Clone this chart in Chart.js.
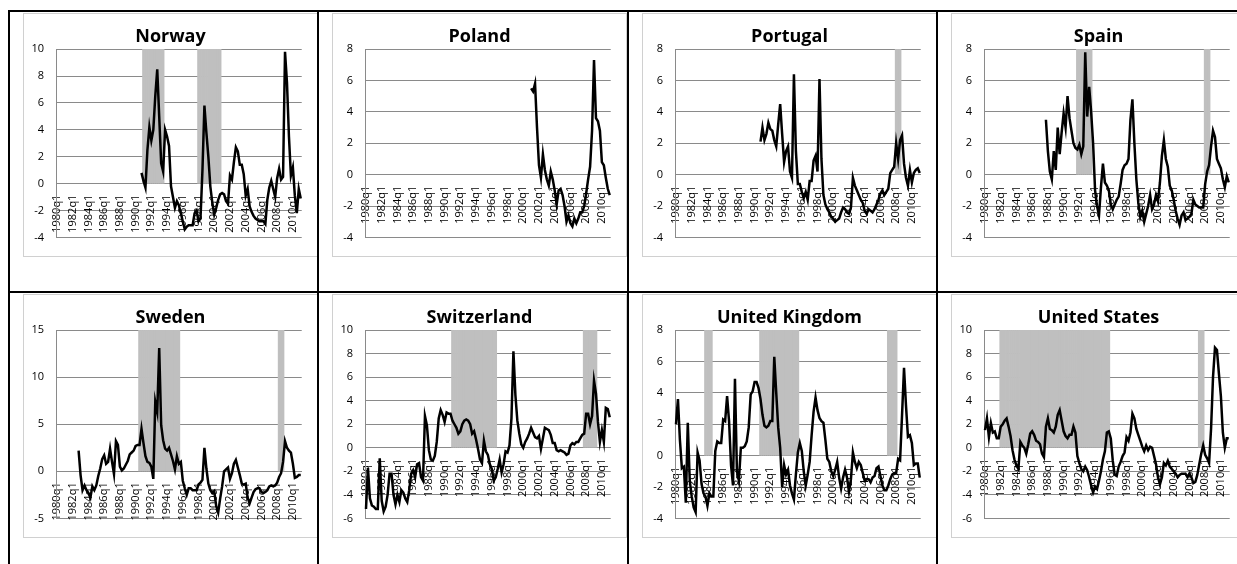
<!DOCTYPE html>
<html>
<head>
<meta charset="utf-8">
<script src="https://cdn.jsdelivr.net/npm/chart.js@4.4.1/dist/chart.umd.min.js"></script>
<style>
  html, body { margin: 0; padding: 0; background: #fff; overflow: hidden; }
  #page { position: relative; width: 1237px; height: 564px; overflow: hidden; }
  .box { position: absolute; width: 293px; height: 242px; border: 1px solid #d0d0d0; background: #fff; }
  .box canvas { display: block; }
  .vline { position: absolute; top: 10px; width: 2px; height: 560px; background: #000; }
  .hline { position: absolute; left: 8px; width: 1240px; height: 2px; background: #000; }
</style>
</head>
<body>
<div id="page"></div>
<script>
// quarterly series, each listed from its first quarter
const norwayFrom = '1990q4';
const norway = [0.8,
  0.2, -0.3, 2.5, 4.2,   3.2, 4.0, 6.5, 8.5,   5.0, 1.5, 0.9, 4.0,   3.5, 2.8, -0.2, -1.0,
  -1.8, -1.3, -1.6, -2.2,   -2.8, -3.4, -3.2, -3.1,   -3.1, -3.1, -2.2, -2.0,   -2.8, -2.6, 1.0, 5.8,
  3.8, 2.0, -0.2, -1.4,   -2.3, -1.8, -1.2, -0.8,   -0.7, -0.8, -1.3, -1.5,   0.6, 0.3, 1.6, 2.7,
  2.4, 1.4, 1.4, 0.7,   -0.9, -0.4, -1.7, -2.1,   -2.4, -2.6, -2.7, -2.8,   -2.8, -2.8, -3.0, -1.2,
  -0.3, 0.2, -0.4, -1.0,   0.4, 1.1, 0.3, 0.5,   9.8, 7.5, 3.5, 0.6,   1.2, -0.9, -2.2, -0.4,
  -1.1];

const polandFrom = '2001q1';
const poland = [
  5.5, 5.3, 5.8, 3.0,   0.6, -0.2, 1.3, 0.3,   -0.3, -0.7, 0.2, -0.3,   -1.0, -1.9, -1.0, -0.9,
  -1.3, -2.0, -3.0, -2.6,   -3.1, -3.3, -2.8, -3.1,   -2.8, -2.4, -2.4, -2.0,   -1.2, -0.3, 0.5, 2.8,
  7.3, 3.6, 3.4, 2.8,   0.8, 0.6, -0.2, -0.9,   -1.3];

const portugalFrom = '1990q4';
const portugal = [2.1,
  3.0, 2.2, 2.6, 3.3,   2.9, 2.8, 2.2, 1.8,   3.2, 4.5, 2.6, 0.8,   1.5, 1.8, 0.2, -0.2,
  6.4, 1.5, -0.6, -0.6,   -1.1, -1.5, -1.1, -1.6,   -0.4, -0.4, 0.9, 1.2,   0.2, 6.1, 1.0, -1.3,
  -1.9, -2.2, -2.4, -2.7,   -2.8, -3.0, -2.9, -2.8,   -2.4, -2.1, -2.2, -2.4,   -2.5, -2.1, -0.2, -0.7,
  -1.0, -1.3, -1.6, -1.8,   -2.3, -2.5, -2.2, -2.3,   -2.4, -2.2, -1.9, -1.6,   -1.2, -1.0, -1.3, -1.1,
  -0.9, 0.1, 0.3, 0.5,   2.0, 1.0, 2.2, 2.5,   0.7, -0.2, -0.7, 0.3,   -0.5, 0.1, 0.3, 0.4,
  0.1];

const spainFrom = '1987q4';
const spain = [3.5,
  1.5, 0.2, -0.3, 1.5,   0.3, 3.0, 1.3, 2.7,   3.9, 3.0, 5.0, 3.6,   2.8, 2.0, 1.7, 1.6,
  1.9, 1.3, 1.8, 7.8,   3.7, 5.6, 4.0, 2.0,   -1.0, -2.0, -2.6, -0.8,   0.7, -0.5, -0.7, -1.0,
  -1.9, -2.2, -1.9, -1.6,   -1.4, -0.6, 0.3, 0.6,   0.7, 1.0, 3.5, 4.8,   2.0, -0.3, -1.8, -2.7,
  -2.3, -3.0, -2.5, -2.0,   -1.3, -2.2, -1.9, -1.3,   -1.7, -0.5, 1.2, 2.2,   1.0, 0.5, -0.7, -1.0,
  -1.6, -2.3, -2.8, -3.2,   -2.6, -2.4, -2.9, -2.8,   -2.7, -2.5, -1.6, -1.9,   -2.0, -2.1, -2.1, -2.1,
  -0.6, 0.2, 0.6, 1.8,   2.8, 2.4, 1.0, 0.7,   0.4, -0.3, -0.8, -0.1,   -0.5];

const swedenFrom = '1982q4';
const sweden = [2.2,
  -0.4, -2.0, -1.5, -2.0,   -2.3, -2.8, -1.6, -2.0,   -1.5, -0.5, 0.3, 1.3,   1.7, 0.8, 1.0, 2.4,
  1.0, -0.3, 3.2, 2.8,   0.5, 0.1, 0.3, 0.7,   1.1, 1.8, 2.0, 2.2,   2.7, 2.8, 2.8, 4.5,
  3.0, 1.6, 1.0, 0.9,   0.5, -0.8, 7.4, 6.3,   13.1, 4.9, 3.3, 2.4,   2.2, 2.5, 1.8, 1.1,
  0.2, 1.6, 0.8, 1.0,   -1.0, -1.8, -2.5, -1.8,   -1.8, -2.0, -2.0, -2.0,   -1.4, -1.2, -0.9, 2.5,
  0.3, -1.3, -2.0, -2.3,   -2.1, -3.7, -4.4, -2.9,   -1.6, 0.0, 0.2, 0.4,   -0.8, -0.2, 0.8, 1.2,
  0.4, -0.4, -1.3, -1.4,   -1.3, -2.8, -3.4, -2.8,   -2.2, -1.9, -1.8, -1.8,   -2.2, -2.3, -2.2, -2.0,
  -1.6, -1.5, -1.6, -1.5,   -1.2, -0.6, -0.2, 1.0,   3.2, 2.5, 2.2, 2.0,   0.8, -0.7, -0.6, -0.4,
  -0.4];

const switzerlandFrom = '1980q1';
const switzerland = [
  -5.2, -1.7, -4.3, -4.9,   -5.0, -5.2, -5.2, -0.9,   -4.5, -5.4, -5.0, -4.0,   -2.2, -2.2, -4.0, -4.8,
  -4.0, -4.6, -3.6, -3.8,   -4.3, -4.6, -3.6, -2.2,   -1.9, -2.5, -1.4, -1.3,   -2.5, -2.8, 2.7, 1.9,
  -0.2, -1.0, -1.1, -0.7,   0.5, 2.5, 3.2, 2.8,   2.2, 3.0, 2.9, 2.9,   2.3, 2.0, 1.7, 1.2,
  1.4, 2.0, 2.3, 2.4,   2.3, 2.0, 1.2, 1.4,   0.7, -0.1, -1.0, -1.3,   0.6, -0.3, -0.6, -1.4,
  -1.8, -2.8, -2.5, -1.8,   -1.0, -2.1, -1.4, -0.3,   -0.4, 0.2, 2.5, 8.2,   4.5, 2.3, 1.2, 0.3,
  0.0, 0.5, 0.8, 1.2,   1.7, 1.3, 0.9, 0.8,   1.0, -0.1, 0.8, 1.7,   1.6, 1.5, 1.1, 0.4,
  0.4, -0.2, -0.3, -0.2,   -0.3, -0.4, -0.6, -0.5,   0.2, 0.4, 0.3, 0.5,   0.5, 0.8, 1.1, 1.2,
  2.9, 2.9, 2.0, 2.7,   5.7, 4.6, 2.2, 0.5,   1.5, 0.5, 3.4, 3.3,   2.6];

const ukFrom = '1980q1';
const uk = [
  2.0, 3.6, 1.0, -0.8,   -0.7, -3.0, 2.1, -1.6,   -2.6, -3.3, -3.6, 0.2,   -0.3, -1.8, -2.4, -2.6,
  -3.2, -2.4, -2.6, -2.6,   0.3, 0.9, 0.8, 0.8,   2.3, 2.2, 3.8, 2.2,   -0.6, -1.9, 4.9, -1.0,
  -1.6, 0.5, 0.5, 0.6,   0.9, 1.8, 3.9, 4.1,   4.7, 4.7, 4.3, 3.6,   2.6, 1.9, 1.8, 1.9,
  2.2, 2.2, 6.3, 4.0,   1.8, 0.5, -2.0, -0.6,   -1.2, -0.9, -1.9, -2.4,   -2.8, -1.2, 0.2, 0.8,
  0.3, -1.0, -1.9, -1.2,   -0.4, 1.3, 2.8, 3.7,   2.9, 2.4, 2.2, 2.1,   1.0, -0.2, -0.4, -1.0,
  -1.3, -0.9, -0.4, -1.4,   -2.1, -1.4, -0.9, -1.4,   -2.3, -1.5, 0.2, -0.4,   -0.8, -0.4, -0.6, -1.1,
  -1.6, -1.5, -1.5, -1.7,   -1.4, -1.3, -0.8, -0.7,   -1.3, -1.9, -2.2, -2.2,   -1.9, -1.5, -1.2, -1.1,
  -1.1, -0.2, -0.3, 2.6,   5.6, 3.2, 1.2, 1.3,   0.8, -0.6, -0.5, -0.5,   -1.4];

const usFrom = '1980q1';
const us = [
  1.5, 2.5, 0.9, 2.1,   1.3, 1.4, 0.8, 0.8,   1.8, 2.0, 2.3, 2.5,   1.8, 1.0, -0.2, -1.0,
  -1.5, -1.8, 0.5, 0.2,   0.0, -0.5, 0.3, 1.2,   1.4, 1.1, 0.6, 0.5,   0.3, -0.5, -0.8, 1.8,
  2.5, 1.6, 1.5, 1.3,   1.8, 2.8, 3.2, 2.3,   1.4, 1.0, 0.8, 1.1,   1.1, 1.8, 1.3, -0.7,
  -1.3, -1.8, -2.0, -1.6,   -1.9, -2.5, -3.2, -3.8,   -3.3, -3.5, -2.8, -2.0,   -1.0, -0.3, 1.3, 1.4,
  0.8, -1.1, -2.3, -2.4,   -1.6, -1.2, -0.7, -0.4,   0.9, 0.6, 1.3, 2.9,   2.5, 1.6, 1.1, 0.6,
  0.1, -0.3, 0.2, -0.2,   0.1, 0.0, -0.7, -1.4,   -2.5, -3.1, -2.5, -1.3,   -1.5, -1.1, -1.6, -1.8,
  -2.0, -2.2, -2.5, -2.3,   -2.2, -2.2, -2.2, -2.5,   -2.2, -2.5, -3.0, -2.9,   -2.3, -1.4, -0.5, 0.2,
  -0.6, -0.9, -1.3, 1.6,   6.0, 8.5, 8.3, 6.3,   4.4, 1.3, 0.0, 0.8,   0.8];

// shaded crisis periods, first and last quarter
const norwayCrisis = [['1991q1', '1993q3'], ['1998q1', '2000q4']];
const polandCrisis = [];
const portugalCrisis = [['2008q1', '2008q3']];
const spainCrisis = [['1991q4', '1993q3'], ['2008q1', '2008q3']];
const swedenCrisis = [['1990q3', '1995q3'], ['2008q2', '2008q4']];
const switzerlandCrisis = [['1991q1', '1996q3'], ['2007q4', '2009q2']];
const ukCrisis = [['1983q4', '1984q3'], ['1990q4', '1995q3'], ['2007q1', '2008q1']];
const usCrisis = [['1982q1', '1995q4'], ['2007q2', '2007q4']];

// y axis: min, max, step
const axis48 = [-4, 8, 2];
const axis410 = [-4, 10, 2];
const axis610 = [-6, 10, 2];
const axisSweden = [-5, 15, 5];

const quarters = [];
for (let y = 1980; y <= 2011; y++) {
  for (let q = 1; q <= 4; q++) {
    quarters.push(y + 'q' + q);
    if (y === 2011) break;
  }
}

const panels = [
  ['Norway', norwayFrom, norway, norwayCrisis, axis410],
  ['Poland', polandFrom, poland, polandCrisis, axis48],
  ['Portugal', portugalFrom, portugal, portugalCrisis, axis48],
  ['Spain', spainFrom, spain, spainCrisis, axis48],
  ['Sweden', swedenFrom, sweden, swedenCrisis, axisSweden],
  ['Switzerland', switzerlandFrom, switzerland, switzerlandCrisis, axis610],
  ['United Kingdom', ukFrom, uk, ukCrisis, axis48],
  ['United States', usFrom, us, usCrisis, axis610]
];

const colX = [8, 317, 627, 936];
const rowY = [10, 291];
const gridGrey = '#8a8a8a';

function placeSeries(from, values) {
  const out = new Array(quarters.length).fill(null);
  const i0 = quarters.indexOf(from);
  values.forEach((v, k) => { if (i0 + k < out.length) out[i0 + k] = v; });
  return out;
}

function shading(periods, top) {
  const out = new Array(quarters.length).fill(null);
  periods.forEach(([a, b]) => {
    for (let i = quarters.indexOf(a); i <= quarters.indexOf(b); i++) out[i] = top;
  });
  return out;
}

const page = document.getElementById('page');

panels.forEach(([name, from, values, crisis, yAxis], n) => {
  const box = document.createElement('div');
  box.className = 'box';
  box.style.left = (colX[n % 4] + 15) + 'px';
  box.style.top = (rowY[Math.floor(n / 4)] + 3) + 'px';
  const canvas = document.createElement('canvas');
  canvas.width = 293;
  canvas.height = 242;
  box.appendChild(canvas);
  page.appendChild(box);

  new Chart(canvas.getContext('2d'), {
    type: 'bar',
    data: {
      labels: quarters,
      datasets: [
        {
          type: 'line',
          data: placeSeries(from, values),
          borderColor: '#000',
          borderWidth: 2.5,
          pointRadius: 0,
          tension: 0,
          order: 0
        },
        {
          type: 'bar',
          data: shading(crisis, yAxis[1]),
          backgroundColor: '#bfbfbf',
          barPercentage: 1,
          categoryPercentage: 1,
          order: 1
        }
      ]
    },
    options: {
      responsive: false,
      animation: false,
      devicePixelRatio: 1,
      layout: { padding: { left: 0, right: 0, top: 0, bottom: 12.5 } },
      plugins: {
        legend: { display: false },
        tooltip: { enabled: false },
        title: {
          display: true,
          text: name,
          color: '#000',
          font: { family: 'Open Sans', size: 18, weight: 'bold' },
          padding: { top: 12.5, bottom: 1 }
        }
      },
      scales: {
        x: {
          position: { y: 0 },
          offset: true,
          grid: { display: false },
          border: { display: true, color: gridGrey },
          ticks: {
            autoSkip: false,
            minRotation: 90,
            maxRotation: 90,
            padding: 3,
            color: '#000',
            font: { family: 'Open Sans', size: 11 },
            callback: (v, i) => (i % 8 === 0 ? quarters[i] : '')
          }
        },
        y: {
          min: yAxis[0],
          max: yAxis[1],
          grid: { color: gridGrey, drawTicks: false },
          border: { color: gridGrey },
          ticks: {
            stepSize: yAxis[2],
            padding: 12,
            color: '#000',
            font: { family: 'Open Sans', size: 11 }
          },
          afterFit: s => { s.width = 32; }
        },
        // empty right margin so the title stays centred on the whole chart box
        yRight: {
          position: 'right',
          grid: { display: false },
          border: { display: false },
          ticks: { display: false },
          afterFit: s => { s.width = 14; }
        }
      }
    }
  });
});

// table rules drawn over the charts
colX.forEach(x => {
  const v = document.createElement('div');
  v.className = 'vline';
  v.style.left = x + 'px';
  page.appendChild(v);
});
rowY.forEach(y => {
  const h = document.createElement('div');
  h.className = 'hline';
  h.style.top = y + 'px';
  page.appendChild(h);
});
</script>
</body>
</html>
